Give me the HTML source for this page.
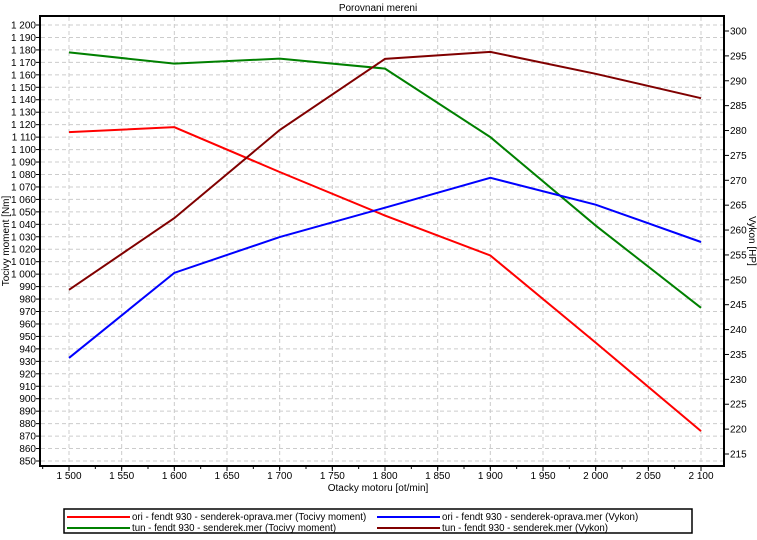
<!DOCTYPE html>
<html><head><meta charset="utf-8"><style>
body{margin:0;background:#fff;font-family:"Liberation Sans",sans-serif;}
svg text{font-family:"Liberation Sans",sans-serif;font-size:10px;fill:#000;}
.lg text{font-size:9.7px;}
</style></head><body>
<svg id="c" width="757" height="535" xmlns="http://www.w3.org/2000/svg">
<text x="378" y="11" text-anchor="middle" font-size="11">Porovnani mereni</text>
<g id="grid"></g>
<g id="axes"></g>
<g id="series"></g>
<rect x="40" y="16" width="684" height="450" fill="none" stroke="#000" stroke-width="2"/>
<text x="378" y="491" text-anchor="middle">Otacky motoru [ot/min]</text>
<text transform="translate(9,241) rotate(-90)" text-anchor="middle">Tocivy moment [Nm]</text>
<text transform="translate(749,241) rotate(90)" text-anchor="middle">Vykon [HP]</text>
<g class="lg">
<rect x="64" y="509" width="628" height="24" fill="#fff" stroke="#000" stroke-width="1.5"/>
<g><line x1="67" y1="517" x2="130" y2="517" stroke="#f00" stroke-width="2"/><text x="132" y="520">ori - fendt 930 - senderek-oprava.mer  (Tocivy moment)</text></g>
<g><line x1="67" y1="528" x2="130" y2="528" stroke="#008000" stroke-width="2"/><text x="132" y="531">tun - fendt 930 - senderek.mer  (Tocivy moment)</text></g>
<g><line x1="377" y1="517" x2="440" y2="517" stroke="#00f" stroke-width="2"/><text x="442" y="520">ori - fendt 930 - senderek-oprava.mer  (Vykon)</text></g>
<g><line x1="377" y1="528" x2="440" y2="528" stroke="#800000" stroke-width="2"/><text x="442" y="531">tun - fendt 930 - senderek.mer  (Vykon)</text></g>
</g>
</svg>
<script>
const rpm=[1500,1600,1700,1800,1900,2000,2100];
const oriTorque=[1114,1118,1082,1047,1015,945,874];
const tunTorque=[1178,1169,1173,1165,1110,1039,973];
const oriPower=[234.3,251.4,258.6,264.5,270.5,265.1,257.6];
const tunPower=[248,262.4,280.1,294.4,295.8,291.4,286.5];
const xTicks=[1500,1550,1600,1650,1700,1750,1800,1850,1900,1950,2000,2050,2100];
const yLeftTicks=[];for(let v=850;v<=1200;v+=10)yLeftTicks.push(v);
const yRightTicks=[];for(let v=215;v<=300;v+=5)yRightTicks.push(v);
const NS='http://www.w3.org/2000/svg';
const X=v=>69+(v-1500)*(632/600);
const YL=v=>461-(v-850)*(436/350);
const YR=v=>454-(v-215)*(423/85);
function mk(t,a,p){const e=document.createElementNS(NS,t);for(const k in a)e.setAttribute(k,a[k]);p.appendChild(e);return e;}
const grid=document.getElementById('grid'),axes=document.getElementById('axes'),ser=document.getElementById('series');
const fmt=v=>{const s=String(v);return s.length>3?s.slice(0,s.length-3)+' '+s.slice(-3):s;};
xTicks.forEach(v=>{const x=X(v);
 const g=mk('line',{x1:x,y1:17,x2:x,y2:465,stroke:'#ccc','stroke-dasharray':'4,3'},grid);
 
 
 mk('line',{x1:x,y1:466,x2:x,y2:471,stroke:'#000'},axes);
 const t=mk('text',{x:x,y:479,'text-anchor':'middle'},axes);t.textContent=fmt(v);
 
 
});
for(let v=1475;v<=2125;v+=25){const x=X(v);if(x>40&&x<724)mk('line',{x1:x,y1:466,x2:x,y2:469,stroke:'#000'},axes);}
yLeftTicks.forEach(v=>{const y=YL(v);
 const g=mk('line',{x1:41,y1:y,x2:723,y2:y,stroke:'#ccc','stroke-dasharray':'4,3'},grid);
 
 
 mk('line',{x1:36,y1:y,x2:40,y2:y,stroke:'#000'},axes);
 const t=mk('text',{x:36,y:y+3.5,'text-anchor':'end'},axes);t.textContent=fmt(v);
 
 
});
yRightTicks.forEach(v=>{const y=YR(v);
 mk('line',{x1:724,y1:y,x2:729,y2:y,stroke:'#000'},axes);
 const t=mk('text',{x:730,y:y+3.5},axes);t.textContent=v;
 
 
});
function line(vals,Y,col,name){
 const p=mk('polyline',{points:vals.map((v,i)=>X(rpm[i])+','+Y(v)).join(' '),fill:'none',stroke:col,'stroke-width':2},ser);
 
 
}
line(oriTorque,YL,'#f00','line-ori-torque');
line(tunTorque,YL,'#008000','line-tun-torque');
line(oriPower,YR,'#00f','line-ori-power');
line(tunPower,YR,'#800000','line-tun-power');
</script>
</body></html>
